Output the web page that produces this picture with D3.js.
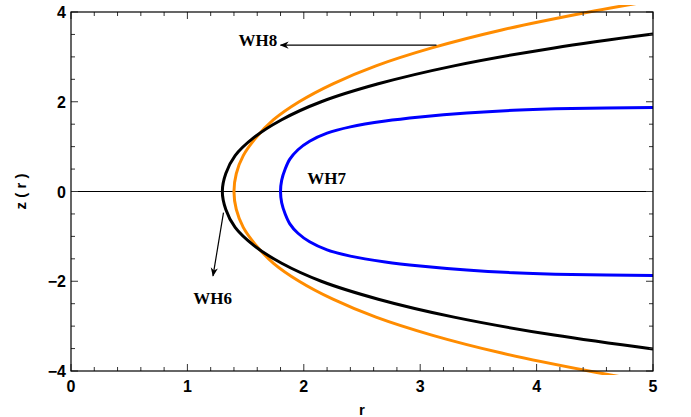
<!DOCTYPE html>
<html>
<head>
<meta charset="utf-8">
<script src="https://cdn.jsdelivr.net/npm/d3@7"></script>
<style>
  body { margin: 0; background: #ffffff; }
  svg { display: block; }
  .tick-label { font-family: 'Liberation Sans', Arial, sans-serif; font-weight: bold; font-size: 16px; }
  .axis-label { font-family: 'Liberation Sans', Arial, sans-serif; font-weight: bold; font-size: 15px; }
  .note { font-family: 'Liberation Serif', 'DejaVu Serif', serif; font-weight: bold; font-size: 17px; }
</style>
</head>
<body>
<div id="chart"></div>
<script>
// values (r, z pairs, bottom branch to top branch)
const blackR = [5.00, 4.15, 3.29, 2.64, 2.15, 1.81, 1.57, 1.41, 1.33, 1.30,
  1.33, 1.41, 1.57, 1.81, 2.15, 2.64, 3.29, 4.15, 5.00];
const blackZ = [-3.51, -3.2, -2.8, -2.4, -2.0, -1.6, -1.2, -0.8, -0.4, 0,
  0.4, 0.8, 1.2, 1.6, 2.0, 2.4, 2.8, 3.2, 3.51];

const orangeR = [4.88, 4.45, 3.70, 3.10, 2.62, 2.25, 1.96, 1.74, 1.59, 1.48, 1.42, 1.40,
  1.42, 1.48, 1.59, 1.74, 1.96, 2.25, 2.62, 3.10, 3.70, 4.45, 4.88];
const orangeZ = [-4.2, -4.0, -3.6, -3.2, -2.8, -2.4, -2.0, -1.6, -1.2, -0.8, -0.4, 0,
  0.4, 0.8, 1.2, 1.6, 2.0, 2.4, 2.8, 3.2, 3.6, 4.0, 4.2];

const blueR = [5.00, 4.30, 3.80, 3.40, 3.00, 2.70, 2.40, 2.20, 2.05, 1.95, 1.88, 1.84, 1.81, 1.80,
  1.81, 1.84, 1.88, 1.95, 2.05, 2.20, 2.40, 2.70, 3.00, 3.40, 3.80, 4.30, 5.00];
const blueZ = [-1.87, -1.85, -1.81, -1.75, -1.66, -1.57, -1.44, -1.30, -1.12, -0.93, -0.72, -0.50, -0.25, 0,
  0.25, 0.50, 0.72, 0.93, 1.12, 1.30, 1.44, 1.57, 1.66, 1.75, 1.81, 1.85, 1.87];

const xTicks = [0, 1, 2, 3, 4, 5];
const yTicks = [-4, -2, 0, 2, 4];
const yTickLabels = ['\u22124', '\u22122', '0', '2', '4'];

// annotation positions in data units
const notes = [
  { text: 'WH8', x: 1.44, y: 3.24, from: [3.14, 3.26], to: [1.80, 3.26] },
  { text: 'WH7', x: 2.03, y: 0.17, from: null, to: null },
  { text: 'WH6', x: 1.05, y: -2.50, from: [1.31, -0.47], to: [1.22, -1.88] },
];

const totalWidth = 691;
const totalHeight = 417;
const margin = { top: 12, right: 38, bottom: 46, left: 71 };
const width = totalWidth - margin.left - margin.right;
const height = totalHeight - margin.top - margin.bottom;

const xScale = d3.scaleLinear().domain([0, 5]).range([0, width]);
const yScale = d3.scaleLinear().domain([-4, 4]).range([height, 0]);

const root = d3.select('#chart')
  .append('svg')
  .attr('width', totalWidth)
  .attr('height', totalHeight);

const defs = root.append('defs');
defs.append('clipPath')
  .attr('id', 'plot-clip')
  .append('rect')
  .attr('x', 0)
  .attr('y', -7)
  .attr('width', width)
  .attr('height', height + 11);

defs.append('marker')
  .attr('id', 'arrow')
  .attr('viewBox', '0 0 10 10')
  .attr('refX', 9)
  .attr('refY', 5)
  .attr('markerWidth', 9)
  .attr('markerHeight', 9)
  .attr('markerUnits', 'userSpaceOnUse')
  .attr('orient', 'auto')
  .append('path')
  .attr('d', 'M0,1 L10,5 L0,9 L3,5 Z')
  .attr('fill', '#000');

const svg = root.append('g')
  .attr('transform', `translate(${margin.left}, ${margin.top})`);

// zero line
svg.append('line')
  .attr('x1', 0)
  .attr('x2', width)
  .attr('y1', yScale(0))
  .attr('y2', yScale(0))
  .attr('stroke', '#000')
  .attr('stroke-width', 1);

// curves
const line = d3.line()
  .x((d) => xScale(d[0]))
  .y((d) => yScale(d[1]))
  .curve(d3.curveCatmullRom.alpha(0.5));

const curves = [
  { r: orangeR, z: orangeZ, color: '#ff8c00' },
  { r: blackR, z: blackZ, color: '#000000' },
  { r: blueR, z: blueZ, color: '#0000ff' },
];

const plot = svg.append('g').attr('clip-path', 'url(#plot-clip)');
curves.forEach((c) => {
  plot.append('path')
    .datum(c.r.map((r, i) => [r, c.z[i]]))
    .attr('fill', 'none')
    .attr('stroke', c.color)
    .attr('stroke-width', 3)
    .attr('d', line);
});

// frame ticks (inward, on all four sides)
const xMinor = d3.range(0, 5.001, 0.2);
const yMinor = d3.range(-4, 4.001, 0.5);
const isMajor = (v) => Math.abs(v - Math.round(v)) < 1e-6;
const tickColor = '#333';

xMinor.forEach((v) => {
  const len = isMajor(v) ? 7 : 4;
  svg.append('line')
    .attr('x1', xScale(v)).attr('x2', xScale(v))
    .attr('y1', height).attr('y2', height - len)
    .attr('stroke', tickColor);
  svg.append('line')
    .attr('x1', xScale(v)).attr('x2', xScale(v))
    .attr('y1', 0).attr('y2', len)
    .attr('stroke', tickColor);
});

yMinor.forEach((v) => {
  const len = (Math.abs(v) % 2 < 1e-6) ? 7 : 4;
  svg.append('line')
    .attr('y1', yScale(v)).attr('y2', yScale(v))
    .attr('x1', 0).attr('x2', len)
    .attr('stroke', tickColor);
  svg.append('line')
    .attr('y1', yScale(v)).attr('y2', yScale(v))
    .attr('x1', width).attr('x2', width - len)
    .attr('stroke', tickColor);
});

// frame
svg.append('rect')
  .attr('x', 0)
  .attr('y', 0)
  .attr('width', width)
  .attr('height', height)
  .attr('fill', 'none')
  .attr('stroke', '#000')
  .attr('stroke-width', 1.2);

// tick labels
svg.selectAll('.x-label')
  .data(xTicks)
  .join('text')
  .attr('class', 'tick-label')
  .attr('text-anchor', 'middle')
  .attr('x', (d) => xScale(d))
  .attr('y', height + 21)
  .text((d) => d);

svg.selectAll('.y-label')
  .data(yTicks)
  .join('text')
  .attr('class', 'tick-label')
  .attr('text-anchor', 'end')
  .attr('x', -5)
  .attr('y', (d) => yScale(d) + 6)
  .text((d, i) => yTickLabels[i]);

// axis labels
svg.append('text')
  .attr('class', 'axis-label')
  .attr('text-anchor', 'middle')
  .attr('x', width / 2)
  .attr('y', height + 44)
  .text('r');

svg.append('text')
  .attr('class', 'axis-label')
  .attr('text-anchor', 'middle')
  .attr('transform', `translate(${-45}, ${yScale(0)}) rotate(-90)`)
  .text('z ( r )');

// annotations
notes.forEach((n) => {
  svg.append('text')
    .attr('class', 'note')
    .attr('x', xScale(n.x))
    .attr('y', yScale(n.y))
    .text(n.text);
  if (n.from) {
    svg.append('line')
      .attr('x1', xScale(n.from[0]))
      .attr('y1', yScale(n.from[1]))
      .attr('x2', xScale(n.to[0]))
      .attr('y2', yScale(n.to[1]))
      .attr('stroke', '#000')
      .attr('stroke-width', 1.2)
      .attr('marker-end', 'url(#arrow)');
  }
});
</script>
</body>
</html>
